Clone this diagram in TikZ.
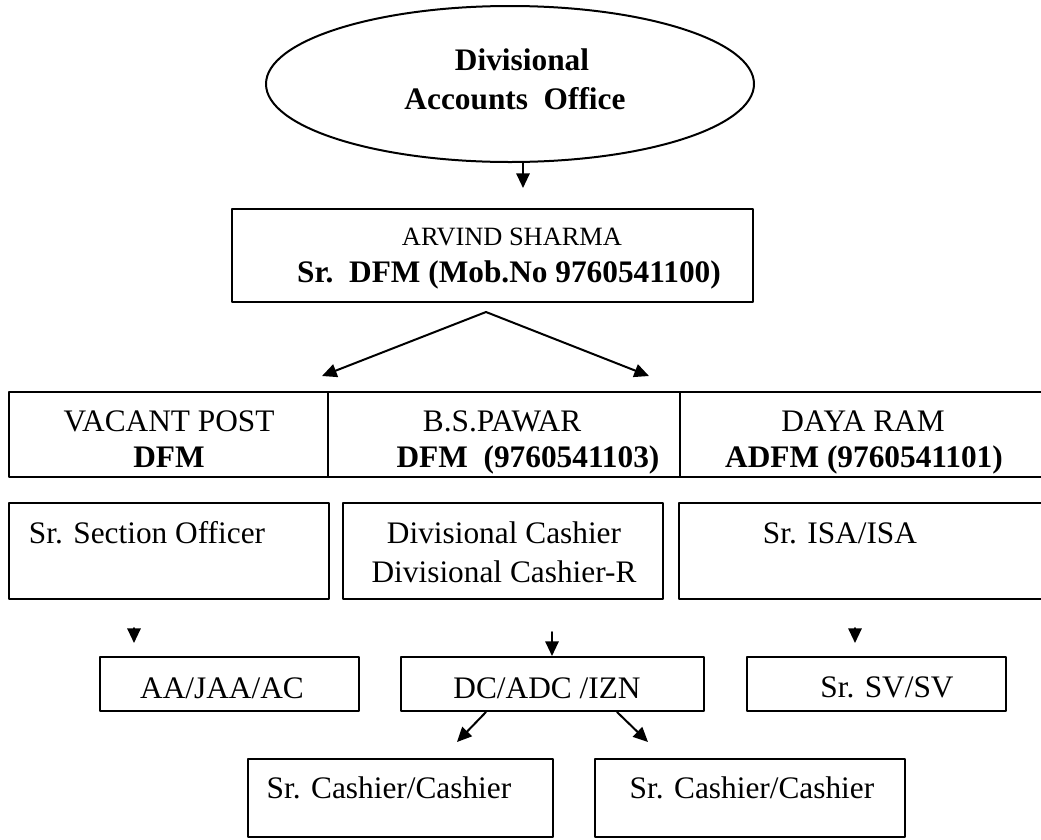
\documentclass[tikz,border=0pt]{standalone}
\usepackage{fontspec}
\setmainfont{Liberation Serif}
\usetikzlibrary{arrows.meta,shapes.geometric,calc}

\begin{document}
\begin{tikzpicture}[line join=round, line cap=round, >={Triangle[length=11pt,width=10pt]}, line width=1.5pt, x=0.75pt, y=-0.75pt]
	\tikzset{every node/.style={font=\fontsize{23.5}{28}\selectfont},
		box/.style 2 args={draw, rectangle, inner sep=0pt, minimum width=#1*0.75pt, minimum height=#2*0.75pt},
		heavy/.style={line width=2pt},
		txt/.style={inner sep=0pt, text height=0.66em, text depth=0pt, yshift=-4.5pt}}
	\useasboundingbox (0,0) rectangle (1041,839);
	% head office
	\node[draw, ellipse, inner sep=0pt, minimum width=366pt, minimum height=117pt] (office) at (510,84) {};
	\node[txt] (office-a) at (522,60) {\bfseries Divisional};
	\node[txt] (office-b) at (515,99) {\bfseries Accounts\ \ Office};
	\node[box={521}{93}, heavy] (arvind) at (492.5,255.5) {};
	\node[txt, font=\fontsize{19.8}{24}\selectfont] (arvind-a) at (512,235) {ARVIND SHARMA};
	\node[txt] (arvind-b) at (509,272.5) {\bfseries Sr.\ \ DFM (Mob.No 9760541100)};
	% officers
	\node[box={319}{85}, heavy] (vacant) at (168.5,434.5) {};
	\node[box={352}{85}, heavy] (pawar) at (504,434.5) {};
	\node[box={370}{85}, heavy] (daya) at (865,434.5) {};
	\node[txt] (vacant-a) at (169,421) {VACANT POST};
	\node[txt] (vacant-b) at (169,457) {\bfseries DFM};
	\node[txt] (pawar-a) at (502,421) {B.S.PAWAR};
	\node[txt] (pawar-b) at (528,457) {\bfseries DFM\ \ (9760541103)};
	\node[txt] (daya-a) at (863,421) {DAYA RAM};
	\node[txt] (daya-b) at (864,457) {\bfseries ADFM (9760541101)};
	% sections
	\node[box={320}{96}, heavy] (sso) at (169,551) {};
	\node[box={320}{96}, heavy] (divcash) at (503,551) {};
	\node[box={371}{96}, heavy] (isa) at (864.5,551) {};
	\node[txt] (sso-a) at (147,533) {Sr. Section Officer};
	\node[txt] (divcash-a) at (504,533) {Divisional Cashier};
	\node[txt] (divcash-b) at (504,572) {Divisional Cashier-R};
	\node[txt] (isa-a) at (840,533) {Sr. ISA/ISA};
	% staff
	\node[box={259}{54}] (aa) at (229.5,684) {};
	\node[box={303}{54}] (dc) at (552.5,684) {};
	\node[box={259}{54}] (sv) at (876.5,684) {};
	\node[txt] (aa-a) at (222,688) {AA/JAA/AC};
	\node[txt] (dc-a) at (547,688) {DC/ADC /IZN};
	\node[txt] (sv-a) at (887,687) {Sr. SV/SV};
	\node[box={305}{78}] (cash1) at (400.5,798) {};
	\node[box={310}{78}] (cash2) at (750,798) {};
	\node[txt] (cash1-a) at (389,788) {Sr. Cashier/Cashier};
	\node[txt] (cash2-a) at (752,788) {Sr. Cashier/Cashier};
	% arrows
	\coordinate (a0) at (523,188);
	\coordinate (fork) at (486,312);
	\coordinate (fl) at (322,376);
	\coordinate (fr) at (649,376);
	\coordinate (h1) at (134,628);
	\coordinate (h2) at (552,632);
	\coordinate (h3) at (855,628);
	\coordinate (cl) at (457,742);
	\coordinate (cr) at (648,742);
	\draw[->] (office.south -| a0) -- (a0);
	\draw[->] (fork) -- (fl);
	\draw[->] (fork) -- (fr);
	\draw[->] (h1) -- ++(0,15);
	\draw[->] (h3) -- ++(0,15);
	\draw[->] (h2) -- (h2 |- dc.north);
	\draw[->] ($(dc.south west)+(86,0)$) -- (cl);
	\draw[->] ($(dc.south west)+(217,0)$) -- (cr);
\end{tikzpicture}
\end{document}
